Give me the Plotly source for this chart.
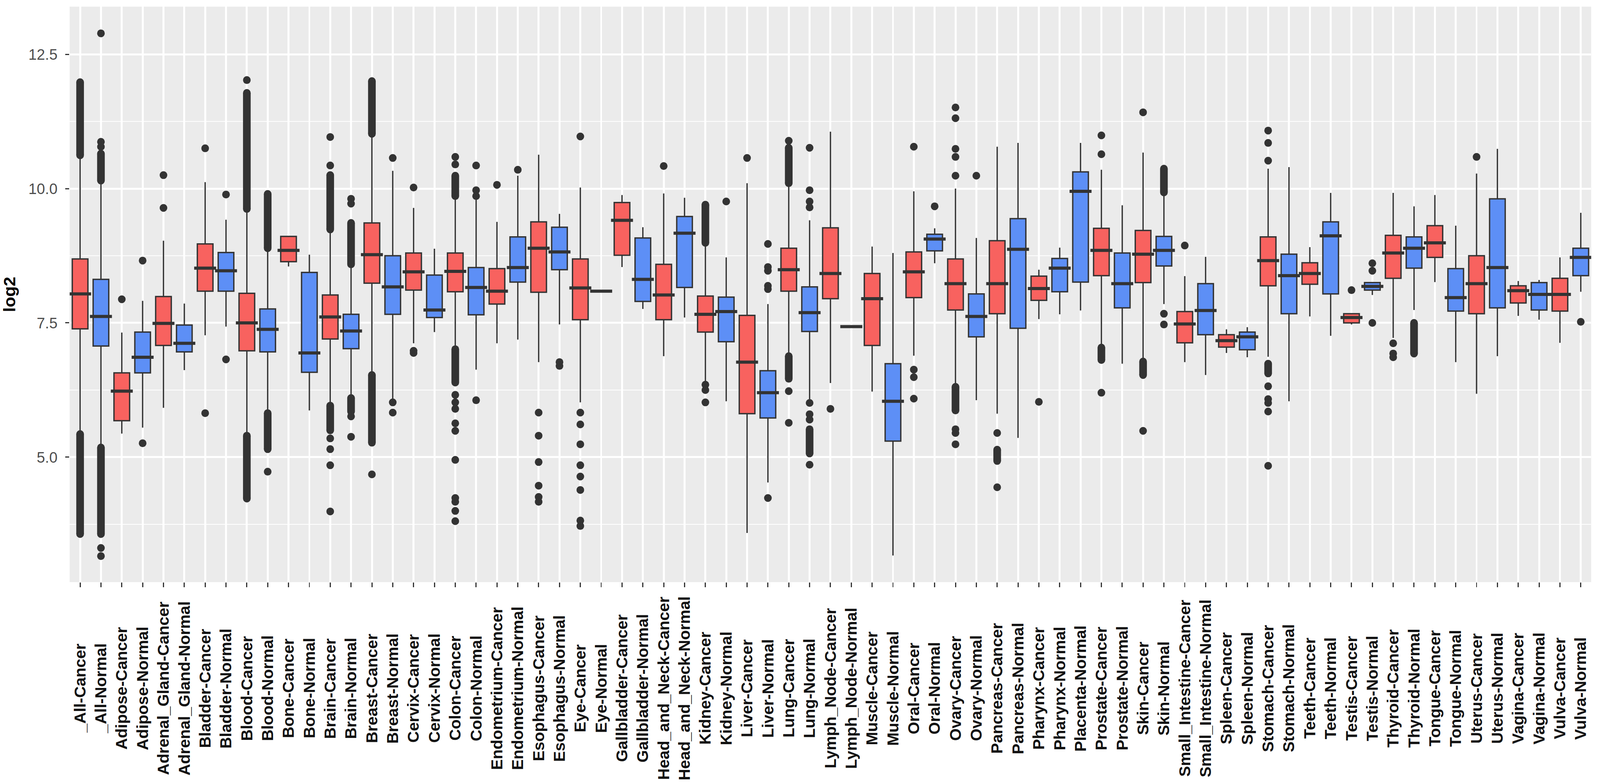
import plotly.graph_objects as go

categories = [
    "_All-Cancer", "_All-Normal", "Adipose-Cancer", "Adipose-Normal",
    "Adrenal_Gland-Cancer", "Adrenal_Gland-Normal", "Bladder-Cancer", "Bladder-Normal",
    "Blood-Cancer", "Blood-Normal", "Bone-Cancer", "Bone-Normal",
    "Brain-Cancer", "Brain-Normal", "Breast-Cancer", "Breast-Normal",
    "Cervix-Cancer", "Cervix-Normal", "Colon-Cancer", "Colon-Normal",
    "Endometrium-Cancer", "Endometrium-Normal", "Esophagus-Cancer", "Esophagus-Normal",
    "Eye-Cancer", "Eye-Normal", "Gallbladder-Cancer", "Gallbladder-Normal",
    "Head_and_Neck-Cancer", "Head_and_Neck-Normal", "Kidney-Cancer", "Kidney-Normal",
    "Liver-Cancer", "Liver-Normal", "Lung-Cancer", "Lung-Normal",
    "Lymph_Node-Cancer", "Lymph_Node-Normal", "Muscle-Cancer", "Muscle-Normal",
    "Oral-Cancer", "Oral-Normal", "Ovary-Cancer", "Ovary-Normal",
    "Pancreas-Cancer", "Pancreas-Normal", "Pharynx-Cancer", "Pharynx-Normal",
    "Placenta-Normal", "Prostate-Cancer", "Prostate-Normal", "Skin-Cancer", "Skin-Normal",
    "Small_Intestine-Cancer", "Small_Intestine-Normal", "Spleen-Cancer", "Spleen-Normal",
    "Stomach-Cancer", "Stomach-Normal", "Teeth-Cancer", "Teeth-Normal",
    "Testis-Cancer", "Testis-Normal", "Thyroid-Cancer", "Thyroid-Normal",
    "Tongue-Cancer", "Tongue-Normal", "Uterus-Cancer", "Uterus-Normal",
    "Vagina-Cancer", "Vagina-Normal", "Vulva-Cancer", "Vulva-Normal",
]

lower_whisker = [5.49, 5.23, 5.44, 5.55, 5.92, 6.62, 7.27, 7.43, 5.44, 5.86, 8.55, 5.87,
                 6.00, 6.13, 6.57, 6.09, 7.12, 7.33, 7.05, 6.63, 7.12, 7.19, 6.77, 7.47,
                 6.02, 8.09, 8.54, 7.76, 6.88, 7.60, 6.39, 6.04, 3.59, 4.53, 6.91, 6.08,
                 6.38, 7.43, 6.22, 3.17, 6.89, 8.61, 6.35, 6.06, 5.81, 5.36, 7.57, 7.66,
                 7.73, 7.08, 6.74, 6.81, 7.85, 6.77, 6.53, 6.94, 6.86, 6.87, 6.04, 7.62,
                 7.26, 7.47, 8.02, 7.22, 7.74, 8.26, 6.77, 6.18, 6.88, 7.63, 7.56, 7.13, 8.08]
q1 = [7.39, 7.07, 5.68, 6.57, 7.08, 6.96, 8.09, 8.09, 6.98, 6.96, 8.64, 6.58,
      7.20, 7.02, 8.24, 7.66, 8.11, 7.60, 8.08, 7.65, 7.85, 8.26, 8.07, 8.49,
      7.56, 8.09, 8.76, 7.90, 7.56, 8.16, 7.33, 7.15, 5.81, 5.73, 8.09, 7.34,
      7.95, 7.43, 7.08, 5.30, 7.97, 8.84, 7.74, 7.24, 7.67, 7.40, 7.92, 8.08,
      8.26, 8.38, 7.78, 8.25, 8.56, 7.13, 7.28, 7.05, 7.00, 8.19, 7.67, 8.22,
      8.04, 7.50, 8.11, 8.33, 8.52, 8.72, 7.72, 7.67, 7.78, 7.87, 7.74, 7.72, 8.38]
median = [8.04, 7.62, 6.23, 6.86, 7.49, 7.12, 8.52, 8.47, 7.50, 7.38, 8.85, 6.94,
          7.61, 7.35, 8.77, 8.17, 8.45, 7.74, 8.46, 8.16, 8.09, 8.53, 8.89, 8.82,
          8.15, 8.09, 9.41, 8.31, 8.02, 9.17, 7.66, 7.71, 6.77, 6.20, 8.49, 7.69,
          8.42, 7.43, 7.95, 6.04, 8.45, 9.06, 8.23, 7.62, 8.23, 8.87, 8.14, 8.52,
          9.95, 8.85, 8.23, 8.78, 8.85, 7.48, 7.73, 7.17, 7.24, 8.66, 8.38, 8.42,
          9.12, 7.60, 8.18, 8.80, 8.89, 8.99, 7.97, 8.23, 8.53, 8.10, 8.03, 8.03, 8.72]
q3 = [8.69, 8.31, 6.57, 7.33, 7.99, 7.46, 8.97, 8.81, 8.05, 7.76, 9.11, 8.44,
      8.02, 7.66, 9.36, 8.75, 8.80, 8.39, 8.80, 8.53, 8.51, 9.10, 9.38, 9.28,
      8.69, 8.09, 9.74, 9.08, 8.59, 9.48, 8.00, 7.98, 7.64, 6.61, 8.89, 8.17,
      9.27, 7.43, 8.42, 6.74, 8.82, 9.15, 8.69, 8.04, 9.03, 9.44, 8.37, 8.70,
      10.31, 9.26, 8.80, 9.22, 9.11, 7.71, 8.23, 7.28, 7.33, 9.10, 8.78, 8.62,
      9.38, 7.67, 8.25, 9.13, 9.10, 9.31, 8.51, 8.75, 9.81, 8.19, 8.25, 8.33, 8.89]
upper_whisker = [10.56, 10.12, 7.32, 7.91, 9.03, 7.86, 10.12, 9.42, 9.57, 8.85, 9.11, 8.77,
                 9.20, 8.55, 10.98, 10.33, 9.64, 8.88, 9.83, 9.79, 9.38, 10.24, 10.63, 9.53,
                 10.02, 8.09, 9.88, 9.28, 9.91, 9.83, 8.96, 8.72, 10.10, 7.85, 10.07, 9.41,
                 11.06, 7.43, 8.92, 8.80, 9.95, 9.26, 10.00, 9.08, 10.78, 10.85, 8.49, 8.90,
                 10.85, 10.35, 9.69, 10.67, 9.90, 8.37, 8.73, 7.38, 7.42, 10.37, 10.40, 8.91,
                 9.92, 7.67, 8.25, 9.92, 9.67, 9.88, 9.31, 10.28, 10.74, 8.28, 8.30, 8.72, 9.55]

# individual outliers (category, value)
outlier_cat = (
    ["_All-Normal"] * 5 + ["Adipose-Cancer"] + ["Adipose-Normal"] * 2
    + ["Adrenal_Gland-Cancer"] * 2 + ["Bladder-Cancer"] * 2 + ["Bladder-Normal"] * 2
    + ["Blood-Cancer"] + ["Blood-Normal"] + ["Brain-Cancer"] * 6 + ["Brain-Normal"] * 4
    + ["Breast-Cancer"] + ["Breast-Normal"] * 3 + ["Cervix-Cancer"] * 3
    + ["Colon-Cancer"] * 12 + ["Colon-Normal"] * 4 + ["Endometrium-Cancer"]
    + ["Endometrium-Normal"] + ["Esophagus-Cancer"] * 6 + ["Esophagus-Normal"] * 2
    + ["Eye-Cancer"] * 9 + ["Head_and_Neck-Cancer"] + ["Kidney-Cancer"] * 4
    + ["Kidney-Normal"] + ["Liver-Cancer"] + ["Liver-Normal"] * 6 + ["Lung-Cancer"] * 3
    + ["Lung-Normal"] * 8 + ["Lymph_Node-Cancer"] + ["Oral-Cancer"] * 4 + ["Oral-Normal"]
    + ["Ovary-Cancer"] * 8 + ["Ovary-Normal"] + ["Pancreas-Cancer"] * 2
    + ["Pharynx-Cancer"] + ["Prostate-Cancer"] * 3 + ["Skin-Cancer"] * 2
    + ["Skin-Normal"] * 2 + ["Small_Intestine-Cancer"] + ["Stomach-Cancer"] * 8
    + ["Testis-Cancer"] + ["Testis-Normal"] * 3 + ["Thyroid-Cancer"] * 3
    + ["Uterus-Cancer"] + ["Vulva-Normal"]
)
outlier_val = (
    [12.89, 10.87, 10.78, 3.31, 3.16] + [7.94] + [8.66, 5.26]
    + [10.25, 9.64] + [10.75, 5.82] + [9.89, 6.82]
    + [12.02] + [4.73] + [10.96, 10.43, 5.35, 5.15, 4.85, 3.99] + [9.81, 9.72, 5.76, 5.38]
    + [4.68] + [10.57, 6.02, 5.83] + [10.02, 6.98, 6.94]
    + [10.59, 10.45, 6.16, 6.02, 5.90, 5.63, 5.49, 4.95, 4.24, 4.17, 4.00, 3.81]
    + [10.43, 9.97, 9.86, 6.06] + [10.07]
    + [10.35] + [5.83, 5.40, 4.91, 4.47, 4.26, 4.17] + [6.77, 6.70]
    + [10.97, 5.83, 5.61, 5.24, 4.85, 4.64, 4.39, 3.82, 3.72] + [10.42] + [9.70, 6.35, 6.25, 6.02]
    + [9.76] + [10.57] + [8.97, 8.54, 8.47, 8.19, 8.13, 4.24] + [10.89, 6.23, 5.64]
    + [10.76, 9.97, 9.76, 9.65, 6.01, 5.80, 5.70, 4.86] + [5.90] + [10.78, 6.63, 6.49, 6.09] + [9.67]
    + [11.51, 11.31, 10.74, 10.59, 10.24, 5.52, 5.45, 5.24] + [10.24] + [5.45, 4.44]
    + [6.03] + [10.99, 10.64, 6.20] + [11.42, 5.49]
    + [7.67, 7.47] + [8.94] + [11.08, 10.85, 10.52, 6.32, 6.08, 6.01, 5.85, 4.84]
    + [8.11] + [8.61, 8.47, 7.50] + [7.12, 6.93, 6.86]
    + [10.59] + [7.52]
)

# runs of outliers so dense that their dots merge into a continuous column
dense_cat = ["_All-Cancer", "_All-Cancer", "_All-Normal", "_All-Normal",
             "Blood-Cancer", "Blood-Cancer", "Blood-Normal", "Blood-Normal",
             "Brain-Cancer", "Brain-Cancer", "Brain-Normal", "Brain-Normal",
             "Breast-Cancer", "Breast-Cancer", "Colon-Cancer", "Colon-Cancer",
             "Kidney-Cancer", "Lung-Cancer", "Lung-Cancer", "Lung-Normal",
             "Ovary-Cancer", "Pancreas-Cancer", "Prostate-Cancer", "Skin-Cancer",
             "Skin-Normal", "Stomach-Cancer", "Thyroid-Normal"]
dense_lo = [10.62, 3.57, 10.15, 3.57, 9.62, 4.23, 8.89, 5.15, 9.24, 5.50, 8.59, 5.85,
            11.02, 5.27, 9.86, 6.39, 8.99, 10.10, 6.46, 5.07, 5.87, 4.93, 6.81, 6.53,
            9.93, 6.56, 6.93]
dense_hi = [11.98, 5.43, 10.65, 5.18, 11.78, 5.40, 9.90, 5.82, 10.25, 5.96, 9.36, 6.10,
            12.00, 6.53, 10.24, 7.01, 9.69, 10.76, 6.88, 5.52, 6.31, 5.14, 7.04, 6.78,
            10.37, 6.74, 7.50]

y_ticks = [5.0, 7.5, 10.0, 12.5]
y_tick_text = ["5.0", "7.5", "10.0", "12.5"]

# ---------------- styling ----------------
W, H = 4179, 2008
RED = "#F8625F"
BLUE = "#5D8FF6"
DARK = "#333333"
FONT = "Liberation Sans, Arial, sans-serif"
BOX_W = 0.75

fig = go.Figure()

for group, color in [("Cancer", RED), ("Normal", BLUE)]:
    idx = [i for i, c in enumerate(categories) if c.endswith(group)]
    fig.add_trace(go.Box(
        x=[categories[i] for i in idx],
        q1=[q1[i] for i in idx],
        median=[median[i] for i in idx],
        q3=[q3[i] for i in idx],
        lowerfence=[lower_whisker[i] for i in idx],
        upperfence=[upper_whisker[i] for i in idx],
        fillcolor=color,
        line=dict(color=DARK, width=3.5),
        whiskerwidth=0,
        width=BOX_W,
        boxpoints=False,
        name=group,
        showlegend=False,
        hoverinfo="skip",
    ))

# thicker median bars (ggplot draws median at twice the line width)
fig.add_trace(go.Scatter(
    x=categories, y=median, mode="markers",
    marker=dict(symbol="line-ew", size=41, line=dict(color=DARK, width=8)),
    showlegend=False, hoverinfo="skip",
))

# dense outlier columns
dx, dy = [], []
for c, lo, hi in zip(dense_cat, dense_lo, dense_hi):
    dx += [c, c, None]
    dy += [lo, hi, None]
fig.add_trace(go.Scatter(
    x=dx, y=dy, mode="lines+markers",
    line=dict(color=DARK, width=20),
    marker=dict(color=DARK, size=20),
    showlegend=False, hoverinfo="skip",
))

# individual outliers
fig.add_trace(go.Scatter(
    x=outlier_cat, y=outlier_val, mode="markers",
    marker=dict(color=DARK, size=20),
    showlegend=False, hoverinfo="skip",
))

# x labels (rotated, centred like ggplot's angle=90 text)
for c in categories:
    fig.add_annotation(
        x=c, xref="x", y=0, yref="paper", yshift=-272,
        text=c, textangle=-90, showarrow=False,
        xanchor="center", yanchor="middle",
        font=dict(family=FONT, size=41, color="#111111", weight="bold"),
    )

fig.update_layout(
    width=W, height=H,
    margin=dict(l=182, r=23, t=17, b=517, autoexpand=False),
    paper_bgcolor="white",
    plot_bgcolor="#EBEBEB",
    boxmode="overlay",
    showlegend=False,
    font=dict(family=FONT),
)

fig.update_xaxes(
    type="category",
    categoryorder="array", categoryarray=categories,
    range=[-0.5, len(categories) - 0.5],
    showticklabels=False,
    ticks="outside", ticklen=12, tickwidth=3, tickcolor=DARK,
    showgrid=True, gridcolor="white", gridwidth=5,
    zeroline=False, showline=False,
)

fig.update_yaxes(
    range=[2.674, 13.387],
    tickvals=y_ticks, ticktext=y_tick_text,
    tickfont=dict(family=FONT, size=39, color="#4D4D4D"),
    ticks="outside", ticklen=11, tickwidth=3, tickcolor=DARK,
    ticklabelstandoff=12,
    showgrid=True, gridcolor="white", gridwidth=5,
    minor=dict(tick0=3.75, dtick=2.5, showgrid=True, gridcolor="white", gridwidth=2.5, ticks=""),
    zeroline=False, showline=False,
    title=dict(text="log2", font=dict(family=FONT, size=44, color="black", weight="bold"), standoff=25),
)

# make the page free of body margins and fit the figure exactly to the viewport
fit_script = """
(function(){
  var gd = document.getElementById('{plot_id}');
  var els = [document.documentElement, document.body];
  for (var i = 0; i < els.length; i++) {
    els[i].style.margin = '0'; els[i].style.padding = '0'; els[i].style.overflow = 'hidden';
  }
  function fit(){
    var sx = window.innerWidth / %d, sy = window.innerHeight / %d;
    gd.style.transformOrigin = '0 0';
    gd.style.transform = 'scale(' + sx + ',' + sy + ')';
  }
  fit();
  window.addEventListener('resize', fit);
})();
""" % (W, H)

fig.write_html("out.html", post_script=fit_script,
               config={"displayModeBar": False, "staticPlot": True})
